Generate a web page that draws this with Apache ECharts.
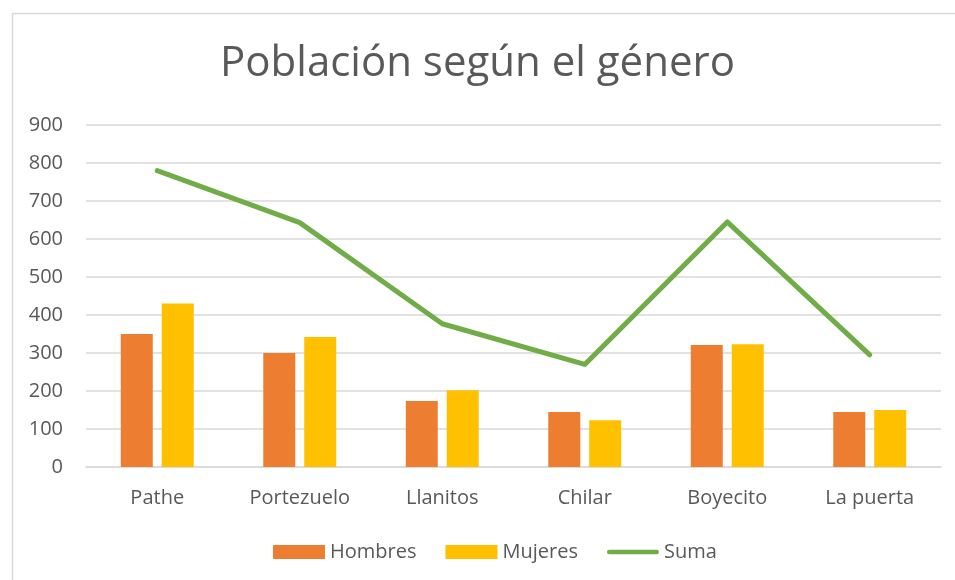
<!DOCTYPE html>
<html>
<head>
<meta charset="utf-8">
<script src="https://cdn.jsdelivr.net/npm/echarts@6/dist/echarts.min.js"></script>
<style>
  html, body { margin: 0; padding: 0; background: #fff; }
  #chart { width: 955px; height: 580px; }
</style>
</head>
<body>
<div id="chart"></div>
<script>
// datos del gráfico
const categorias = ['Pathe', 'Portezuelo', 'Llanitos', 'Chilar', 'Boyecito', 'La puerta']
const hombres = [350, 300, 174, 145, 321, 145]
const mujeres = [430, 342, 202, 123, 323, 150]
const suma = [780, 643, 377, 270, 645, 295]
const yTicks = { min: 0, max: 900, interval: 100 }

const textColor = '#595959'
const gridColor = '#d9d9d9'
const fontFam = '"Open Sans", sans-serif'

const chart = echarts.init(document.getElementById('chart'))
const option = {
    animation: false,
    graphic: [
        {
            type: 'rect',
            shape: { x: 12.5, y: 13.5, width: 1000, height: 1000 },
            style: { fill: 'none', stroke: gridColor, lineWidth: 1.5 },
            silent: true
        }
    ],
    title: {
        text: 'Población según el género',
        left: 'center',
        top: 38,
        textStyle: {
            fontFamily: fontFam,
            fontWeight: 'normal',
            fontSize: 42,
            color: textColor
        }
    },
    legend: {
        bottom: 13,
        left: 268,
        itemWidth: 52,
        itemHeight: 14,
        itemGap: 29,
        textStyle: {
            fontFamily: fontFam,
            fontSize: 20,
            color: textColor
        },
        data: [
            { name: 'Hombres', icon: 'rect' },
            { name: 'Mujeres', icon: 'rect' },
            // icono de línea sin marcador
            { name: 'Suma', icon: 'path://M2.5,0 H54.5 A2.5,2.5 0 0 1 54.5,5 H2.5 A2.5,2.5 0 0 1 2.5,0 Z' }
        ]
    },
    grid: {
        left: 86,
        right: 14,
        top: 125,
        bottom: 113,
        containLabel: false
    },
    xAxis: {
        type: 'category',
        data: categorias,
        axisTick: { show: false },
        axisLine: { lineStyle: { color: gridColor, width: 1.5 } },
        axisLabel: {
            margin: 21,
            fontFamily: fontFam,
            fontSize: 20,
            color: textColor
        }
    },
    yAxis: {
        type: 'value',
        min: yTicks.min,
        max: yTicks.max,
        interval: yTicks.interval,
        axisLine: { show: false },
        axisTick: { show: false },
        splitLine: { lineStyle: { color: gridColor, width: 1.5 } },
        axisLabel: {
            margin: 23,
            fontFamily: fontFam,
            fontSize: 20,
            color: textColor
        }
    },
    series: [
        {
            name: 'Hombres',
            type: 'bar',
            data: hombres,
            barWidth: 32,
            barGap: '28%',
            itemStyle: { color: '#ED7D31' }
        },
        {
            name: 'Mujeres',
            type: 'bar',
            data: mujeres,
            barWidth: 32,
            barGap: '28%',
            itemStyle: { color: '#FFC000' }
        },
        {
            name: 'Suma',
            type: 'line',
            data: suma,
            symbol: 'none',
            itemStyle: { color: '#70AD47' },
            lineStyle: { color: '#70AD47', width: 5, cap: 'round', join: 'round' }
        }
    ]
}
chart.setOption(option)
</script>
</body>
</html>
